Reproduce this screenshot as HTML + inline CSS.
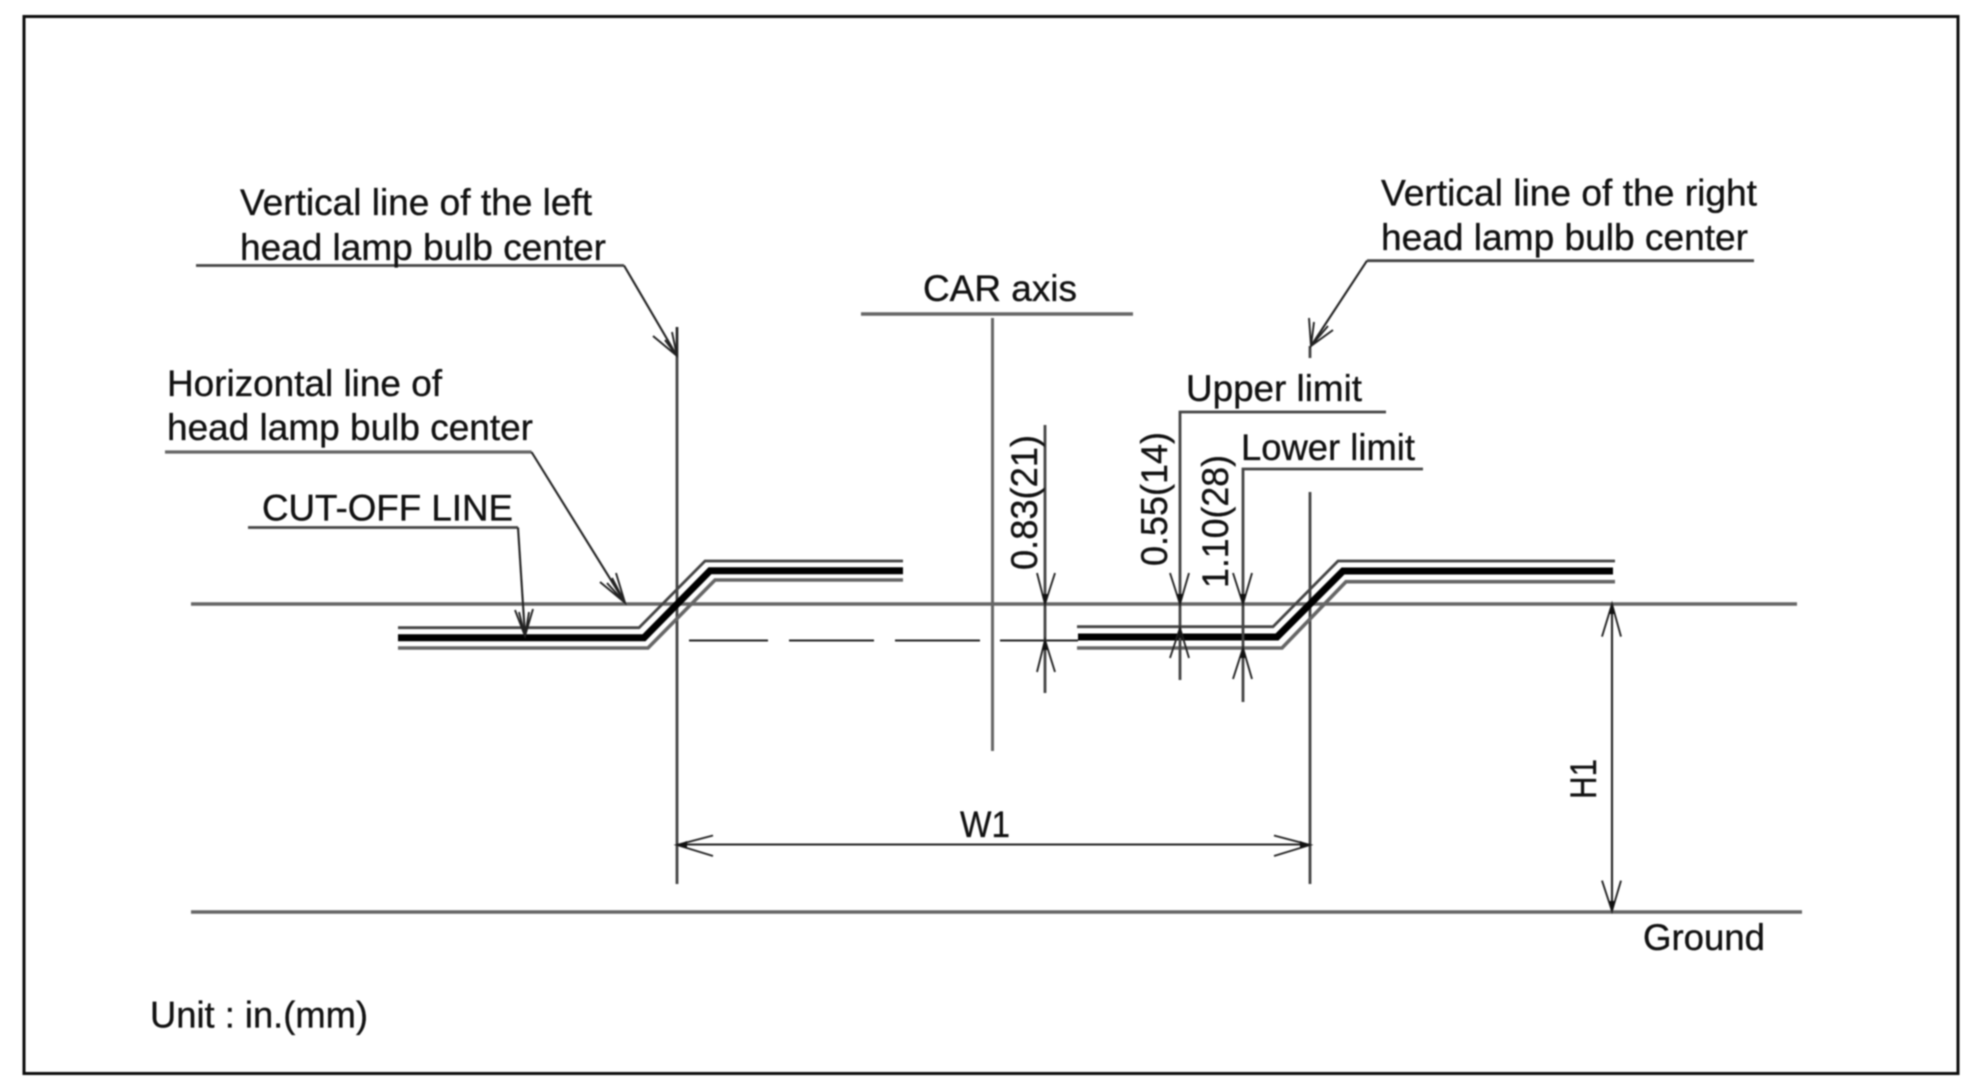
<!DOCTYPE html>
<html lang="en">
<head>
<meta charset="utf-8">
<title>Head lamp aiming diagram</title>
<style>
html,body{margin:0;padding:0;background:#fff;width:1980px;height:1085px;overflow:hidden}
svg{display:block;filter:blur(0.7px)}
text{font-family:"Liberation Sans",sans-serif;font-size:37px;fill:#111;stroke:#111;stroke-width:.35}
.g{fill:none;stroke:#666;stroke-width:3.6}
.t{fill:none;stroke:#444;stroke-width:2.8}
.l{fill:none;stroke:#222;stroke-width:2.1}
.a{fill:none;stroke:#222;stroke-width:1.9}
.f{fill:#111;stroke:none}
</style>
</head>
<body>
<svg width="1980" height="1085" viewBox="0 0 1980 1085" xmlns="http://www.w3.org/2000/svg">
<rect width="1980" height="1085" fill="#fff"/>
<rect x="24" y="16.5" width="1934" height="1057" fill="#fff" stroke="#0c0c0c" stroke-width="3"/>

<!-- main reference lines -->
<path class="g" d="M191 604H1797"/>
<path class="g" d="M191 912H1802"/>

<!-- verticals -->
<path class="t" d="M677 327V884"/>
<path class="g" style="stroke-width:3" d="M992.5 318V751"/>
<path class="t" d="M1310 492V884"/>
<path class="t" d="M1310 346V358"/>

<!-- dashed line -->
<path class="l" d="M689 640.5H768M789 640.5H874M895 640.5H980M1000 640.5H1078"/>

<!-- cut-off left -->
<path class="t" d="M398 627.7H639L705 561H903"/>
<path fill="none" stroke="#000" stroke-width="7" d="M398 637.7H644L710 570.7H903"/>
<path class="g" d="M398 648H648L715 580H903"/>
<!-- cut-off right -->
<path class="t" d="M1077 626.7H1273L1338 561H1615"/>
<path fill="none" stroke="#000" stroke-width="7" d="M1078 637H1277L1343 571H1613"/>
<path class="g" d="M1077 648H1282L1346 581.7H1615"/>

<!-- leaders: left vertical -->
<path class="t" d="M196 265.5H624"/>
<path class="l" d="M624 265.5L677 356"/>
<path class="a" d="M653 336L677 356L677 327M665 340L677 356L672 332"/>
<!-- CAR axis -->
<path class="g" d="M861 314H1133"/>
<!-- right vertical -->
<path class="t" d="M1754 260.7H1367"/>
<path class="l" d="M1367 260.7L1311 346"/>
<path class="a" d="M1309 318L1311 346L1333 330M1314 322L1311 346L1328 326"/>
<!-- horizontal line -->
<path class="g" style="stroke-width:3.2" d="M165 452H531.5"/>
<path class="l" d="M531.5 452L625 602.7"/>
<path class="a" d="M600 582L625 602.7L616 573M607 583L625 602.7L612 578"/>
<!-- cut-off line -->
<path class="t" d="M248 527.5H518"/>
<path class="l" d="M518 527.5L525 635.6"/>
<path class="a" d="M515 610L525 636L533 609M519 612L525 636L529 612"/>
<!-- upper / lower limit -->
<path class="t" d="M1386 412H1180V680"/>
<path class="t" d="M1423 469H1243V702"/>
<!-- 0.83 -->
<path class="t" d="M1045 425V693"/>
<path class="a" d="M1037 573L1045 604L1055 573M1037 672L1045 640L1055 672"/>
<path class="a" d="M1170 573L1180 604L1189 573M1170 658L1180 628L1189 658"/>
<path class="a" d="M1233 573L1243 604L1252 573M1233 679L1243 648L1252 679"/>
<path class="f" d="M1042 594L1045 604L1048 594ZM1042 650L1045 640L1048 650ZM1177 594L1180 604L1183 594ZM1177 638L1180 628L1183 638ZM1240 594L1243 604L1246 594ZM1240 658L1243 648L1246 658Z"/>

<!-- W1 dimension -->
<path class="l" d="M677 844.5H1310"/>
<path class="a" d="M713 835.5L677 845L713 856M1274 835.5L1310 845L1274 856"/>
<path class="f" d="M687 841L677 845L687 848ZM1300 841L1310 845L1300 848Z"/>
<!-- H1 dimension -->
<path class="l" d="M1612 604V911"/>
<path class="a" d="M1602 636.6L1612 604L1621 636.6M1602 880.6L1612 911L1621 880.6"/>
<path class="f" d="M1609 614L1612 604L1615 614ZM1609 901L1612 911L1615 901Z"/>

<!-- labels -->
<text x="240" y="215" textLength="352" lengthAdjust="spacingAndGlyphs">Vertical line of the left</text>
<text x="240" y="260" textLength="366" lengthAdjust="spacingAndGlyphs">head lamp bulb center</text>
<text x="167" y="396" textLength="275" lengthAdjust="spacingAndGlyphs">Horizontal line of</text>
<text x="167" y="440" textLength="366" lengthAdjust="spacingAndGlyphs">head lamp bulb center</text>
<text x="262" y="520.6" textLength="251" lengthAdjust="spacingAndGlyphs">CUT-OFF LINE</text>
<text x="923" y="301" textLength="154" lengthAdjust="spacingAndGlyphs">CAR axis</text>
<text x="1381" y="205.6" textLength="376" lengthAdjust="spacingAndGlyphs">Vertical line of the right</text>
<text x="1381" y="250" textLength="367" lengthAdjust="spacingAndGlyphs">head lamp bulb center</text>
<text x="1186" y="401" textLength="176" lengthAdjust="spacingAndGlyphs">Upper limit</text>
<text x="1241" y="460" textLength="174" lengthAdjust="spacingAndGlyphs">Lower limit</text>
<text x="960" y="837" textLength="50" lengthAdjust="spacingAndGlyphs">W1</text>
<text x="1643" y="950" textLength="122" lengthAdjust="spacingAndGlyphs">Ground</text>
<text x="150" y="1027.6" textLength="218" lengthAdjust="spacingAndGlyphs">Unit : in.(mm)</text>
<text transform="translate(1596 799) rotate(-90)" textLength="40" lengthAdjust="spacingAndGlyphs">H1</text>
<text transform="translate(1037 570) rotate(-90)" textLength="135" lengthAdjust="spacingAndGlyphs">0.83(21)</text>
<text transform="translate(1167 566) rotate(-90)" textLength="134" lengthAdjust="spacingAndGlyphs">0.55(14)</text>
<text transform="translate(1228 588) rotate(-90)" textLength="133" lengthAdjust="spacingAndGlyphs">1.10(28)</text>
</svg>
</body>
</html>
